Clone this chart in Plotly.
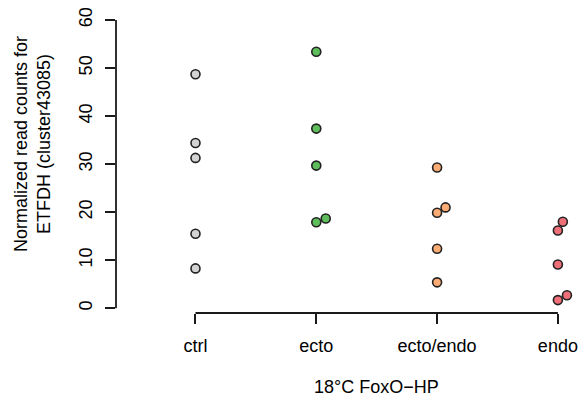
import plotly.graph_objects as go

categories = ["ctrl", "ecto", "ecto/endo", "endo"]
ctrl_vals = [48.7, 34.4, 31.3, 15.5, 8.3]
ecto_vals = [53.4, 37.4, 29.7, 17.9, 18.7]
ectoendo_vals = [29.3, 21.0, 19.9, 12.4, 5.4]
endo_vals = [18.0, 16.2, 9.1, 2.7, 1.7]
# horizontal jitter (category units) as seen in the picture
ctrl_jit = [0, 0, 0, 0, 0]
ecto_jit = [0, 0, 0, 0, 0.078]
ectoendo_jit = [0, 0.07, 0, 0, 0]
endo_jit = [0.041, 0, 0, 0.075, 0]
colors = ["#D3D3D3", "#5FBE5C", "#FBAC74", "#EF6F79"]
y_ticks = [0, 10, 20, 30, 40, 50, 60]

series = [ctrl_vals, ecto_vals, ectoendo_vals, endo_vals]
jitters = [ctrl_jit, ecto_jit, ectoendo_jit, endo_jit]

FONT = "Liberation Sans, Arial, Helvetica, sans-serif"
AX = "#1a1a1a"
TXT = "#000000"

fig = go.Figure()
for i, (vals, jit) in enumerate(zip(series, jitters)):
    fig.add_trace(go.Scatter(
        x=[i + 1 + j for j in jit], y=vals, mode="markers",
        marker=dict(size=9, color=colors[i], line=dict(color="#222222", width=1.6)),
        showlegend=False, cliponaxis=False))

# R-style axis lines spanning only first to last tick
fig.add_shape(type="line", xref="paper", yref="y", x0=0, x1=0,
              y0=y_ticks[0], y1=y_ticks[-1], line=dict(color=AX, width=1.8))
fig.add_shape(type="line", xref="x", yref="paper", x0=1, x1=len(categories),
              y0=0, y1=0, line=dict(color=AX, width=1.8))

fig.update_xaxes(range=[0.342, 4.241], tickvals=[1, 2, 3, 4], ticktext=categories,
                 ticks="outside", ticklen=10, tickwidth=1.8, tickcolor=AX,
                 showgrid=False, zeroline=False, showline=False, automargin=False,
                 ticklabeloverflow="allow",
                 tickfont=dict(family=FONT, size=18, color=TXT), ticklabelstandoff=6)
fig.update_yaxes(range=[-0.98, 62.5], tickvals=y_ticks,
                 ticks="outside", ticklen=10, tickwidth=1.8, tickcolor=AX,
                 showgrid=False, zeroline=False, showline=False, tickangle=-90,
                 automargin=False, ticklabeloverflow="allow",
                 tickfont=dict(family=FONT, size=18, color=TXT), ticklabelstandoff=6)

fig.add_annotation(text="18°C FoxO−HP", xref="x", yref="paper", x=2.5, y=-0.2426,
                   showarrow=False, yanchor="middle", xanchor="center",
                   font=dict(family=FONT, size=18, color=TXT))
fig.add_annotation(text="Normalized read counts for<br>ETFDH (cluster43085)",
                   xref="paper", yref="paper", x=-0.1783, y=0.554, textangle=-90,
                   showarrow=False, xanchor="center", yanchor="middle",
                   font=dict(family=FONT, size=18, color=TXT))

fig.update_layout(width=587, height=403, margin=dict(l=108, r=8, t=0, b=98, autoexpand=False),
                  plot_bgcolor="white", paper_bgcolor="white")
fig.write_html("out.html")
